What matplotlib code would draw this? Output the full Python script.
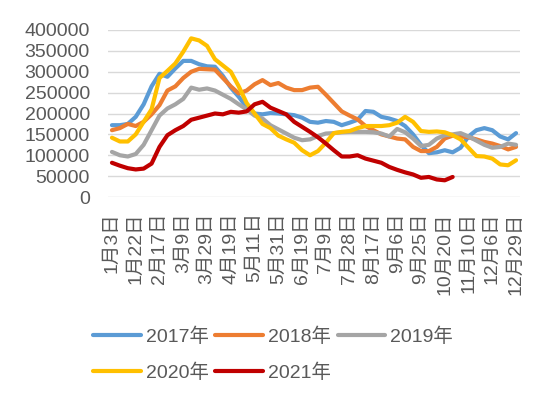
import matplotlib
matplotlib.use("Agg")
import matplotlib.pyplot as plt

plt.rcParams["font.family"] = ["Liberation Sans", "Noto Sans CJK SC", "DejaVu Sans"]

# tick labels shown on the category axis (every 3rd of 52 weekly points)
tick_labels = ["1月3日", "1月22日", "2月17日", "3月9日", "3月29日", "4月19日",
               "5月11日", "5月31日", "6月19日", "7月9日", "7月28日", "8月17日",
               "9月6日", "9月25日", "10月20日", "11月10日", "12月6日", "12月29日"]

y2017 = [172000, 172000, 175000, 192000, 222000, 265000, 295000, 288000, 308000, 326000,
         326000, 318000, 313000, 312000, 290000, 262000, 240000, 215000, 200000, 198000,
         201000, 200000, 198000, 196000, 190000, 180000, 178000, 182000, 180000, 172000,
         178000, 185000, 206000, 204000, 192000, 188000, 182000, 170000, 150000, 125000,
         105000, 107000, 112000, 107000, 118000, 145000, 160000, 165000, 160000, 145000,
         138000, 153000]
y2018 = [160000, 165000, 175000, 170000, 180000, 198000, 220000, 255000, 265000, 285000,
         300000, 307000, 306000, 305000, 285000, 265000, 248000, 255000, 270000, 280000,
         268000, 273000, 262000, 256000, 256000, 262000, 264000, 245000, 225000, 205000,
         195000, 186000, 170000, 160000, 150000, 145000, 140000, 138000, 120000, 110000,
         110000, 120000, 140000, 147000, 145000, 143000, 138000, 132000, 128000, 122000,
         114000, 120000]
y2019 = [108000, 100000, 97000, 103000, 125000, 160000, 195000, 212000, 222000, 235000,
         262000, 257000, 260000, 255000, 245000, 235000, 222000, 210000, 195000, 188000,
         172000, 162000, 152000, 142000, 136000, 138000, 146000, 152000, 153000, 155000,
         156000, 156000, 156000, 155000, 152000, 145000, 163000, 155000, 140000, 122000,
         125000, 140000, 148000, 150000, 153000, 145000, 135000, 125000, 118000, 120000,
         128000, 125000]
y2020 = [142000, 133000, 133000, 150000, 180000, 210000, 285000, 302000, 320000, 348000,
         380000, 375000, 362000, 330000, 315000, 300000, 265000, 225000, 200000, 175000,
         165000, 147000, 138000, 130000, 112000, 100000, 110000, 130000, 153000, 156000,
         158000, 165000, 170000, 170000, 170000, 172000, 178000, 192000, 180000, 158000,
         156000, 157000, 155000, 148000, 138000, 118000, 98000, 97000, 92000, 78000,
         76000, 88000]
y2021 = [82000, 75000, 69000, 66000, 68000, 80000, 120000, 148000, 160000, 170000,
         185000, 190000, 195000, 200000, 198000, 204000, 202000, 205000, 222000, 228000,
         214000, 206000, 198000, 180000, 168000, 156000, 143000, 128000, 112000, 97000,
         97000, 100000, 92000, 87000, 82000, 72000, 65000, 59000, 54000, 46000,
         48000, 42000, 40000, 48000]

series = [("2017年", y2017, "#5B9BD5"),
          ("2018年", y2018, "#ED7D31"),
          ("2019年", y2019, "#A5A5A5"),
          ("2020年", y2020, "#FFC000"),
          ("2021年", y2021, "#C00000")]

fig = plt.figure(figsize=(5.5, 3.95), dpi=100)
ax = fig.add_axes([108 / 550, 1 - 197 / 395, 412 / 550, 167 / 395])

handles = {}
for name, vals, color in series:
    (ln,) = ax.plot(range(len(vals)), vals, color=color, lw=3.0,
                    solid_capstyle="round", solid_joinstyle="round", label=name)
    handles[name] = ln

ax.set_xlim(-0.5, 51.5)
ax.set_ylim(0, 400000)
ax.set_yticks(range(0, 400001, 50000))
ax.set_xticks(range(0, 52, 3))
ax.set_xticklabels(tick_labels, rotation=90)
ax.grid(axis="y", color="#D9D9D9", lw=1)
ax.set_axisbelow(True)
for s in ax.spines.values():
    s.set_visible(False)
ax.tick_params(axis="both", length=0, labelsize=14, colors="#595959")
ax.tick_params(axis="y", pad=13)
ax.tick_params(axis="x", pad=11)

# reorder so the 3-column legend fills row by row
order = ["2017年", "2020年", "2018年", "2021年", "2019年"]
leg = fig.legend([handles[k] for k in order], order, ncol=3,
                 loc="upper left", bbox_to_anchor=(0.155, 0.19),
                 bbox_transform=fig.transFigure, frameon=False, fontsize=14,
                 handlelength=2.45, handletextpad=0.25, columnspacing=0.35,
                 labelspacing=0.9, borderaxespad=0)
for t in leg.get_texts():
    t.set_color("#595959")

fig.savefig("out.png", dpi=100)
